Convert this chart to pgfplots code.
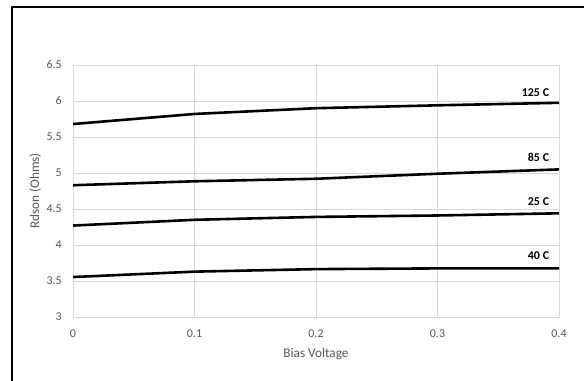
\documentclass[border=0pt]{standalone}
\usepackage{fontspec}
\setmainfont{Carlito}
\usepackage{pgfplots}
\pgfplotsset{compat=1.18}

\definecolor{txtgray}{HTML}{595959}
\definecolor{gridgray}{HTML}{D9D9D9}

\begin{document}
\begin{tikzpicture}[rline/.style={black, line width=2.6bp, mark=none}]
\useasboundingbox (0,0) rectangle (584bp,381bp);
\clip (0,0) rectangle (584bp,381bp);
% outer chart frame
\draw[line width=2.2bp, black] (12bp,-10bp) -- (12bp,374bp) -- (600bp,374bp);
\begin{axis}[
  at={(73bp,64bp)}, anchor=south west,
  scale only axis, width=486bp, height=252bp,
  xmin=0, xmax=0.4, ymin=3, ymax=6.5,
  xtick={0,0.1,0.2,0.3,0.4},
  ytick={3,3.5,4,4.5,5,5.5,6,6.5},
  grid=major,
  major grid style={gridgray, line width=0.8bp},
  axis line style={gridgray, line width=0.8bp},
  major tick length=0pt,
  tick style={draw=none},
  /pgf/number format/assume math mode=true,
  /pgf/number format/.cd, fixed, precision=1, /pgfplots/.cd,
  ticklabel style={font=\fontsize{12}{14}\selectfont, text=txtgray, inner sep=0pt},
  yticklabel style={anchor=east, xshift=-11bp},
  xticklabel style={anchor=north, yshift=-13bp},
  xlabel={Bias Voltage},
  ylabel={Rdson (Ohms)},
  label style={font=\fontsize{13.3}{15}\selectfont, text=txtgray},
  xlabel style={at={(axis description cs:0.5,-0.147)}, anchor=center},
  ylabel style={at={(axis description cs:-0.078,0.5)}, anchor=center, rotate=0},
  clip=false,
]
% 125 C
\addplot[rline] coordinates {(0,5.68) (0.1,5.82) (0.2,5.90) (0.3,5.94) (0.4,5.975)};
% 85 C
\addplot[rline] coordinates {(0,4.83) (0.1,4.885) (0.2,4.92) (0.3,4.99) (0.4,5.05)};
% 25 C
\addplot[rline] coordinates {(0,4.27) (0.1,4.35) (0.2,4.39) (0.3,4.41) (0.4,4.44)};
% 40 C
\addplot[rline] coordinates {(0,3.555) (0.1,3.63) (0.2,3.665) (0.3,3.675) (0.4,3.675)};

\begin{scope}[every node/.style={anchor=base east, inner sep=0pt, font=\fontsize{12}{14}\selectfont\bfseries}]
\node at (axis cs:0.392,6.069) {125 C};
\node at (axis cs:0.392,5.153) {85 C};
\node at (axis cs:0.392,4.546) {25 C};
\node at (axis cs:0.392,3.792) {40 C};
\end{scope}
\end{axis}
\end{tikzpicture}
\end{document}
